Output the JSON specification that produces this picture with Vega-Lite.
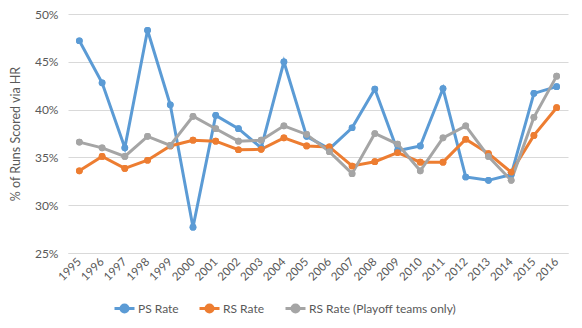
{
  "$schema": "https://vega.github.io/schema/vega-lite/v6.json",
  "autosize": {"type": "none"},
  "width": 500,
  "height": 239,
  "padding": {"left": 68, "top": 14, "right": 14, "bottom": 75},
  "background": "white",
  "config": {
    "font": "Lato",
    "view": {"stroke": null},
    "axis": {"labelColor": "#595959", "titleColor": "#595959", "labelFontSize": 12, "labelFont": "Lato", "titleFont": "Lato", "titleFontWeight": "normal"},
    "legend": {"labelColor": "#595959", "labelFontSize": 12, "labelFont": "Lato"}
  },
  "data": {
    "values": [
      {"year": "1995", "series": "PS Rate", "rate": 47.2},
      {"year": "1996", "series": "PS Rate", "rate": 42.8},
      {"year": "1997", "series": "PS Rate", "rate": 36.0},
      {"year": "1998", "series": "PS Rate", "rate": 48.3},
      {"year": "1999", "series": "PS Rate", "rate": 40.5},
      {"year": "2000", "series": "PS Rate", "rate": 27.7},
      {"year": "2001", "series": "PS Rate", "rate": 39.4},
      {"year": "2002", "series": "PS Rate", "rate": 38.0},
      {"year": "2003", "series": "PS Rate", "rate": 36.0},
      {"year": "2004", "series": "PS Rate", "rate": 45.0},
      {"year": "2005", "series": "PS Rate", "rate": 37.2},
      {"year": "2006", "series": "PS Rate", "rate": 35.9},
      {"year": "2007", "series": "PS Rate", "rate": 38.1},
      {"year": "2008", "series": "PS Rate", "rate": 42.15},
      {"year": "2009", "series": "PS Rate", "rate": 35.7},
      {"year": "2010", "series": "PS Rate", "rate": 36.2},
      {"year": "2011", "series": "PS Rate", "rate": 42.2},
      {"year": "2012", "series": "PS Rate", "rate": 32.95},
      {"year": "2013", "series": "PS Rate", "rate": 32.6},
      {"year": "2014", "series": "PS Rate", "rate": 33.2},
      {"year": "2015", "series": "PS Rate", "rate": 41.7},
      {"year": "2016", "series": "PS Rate", "rate": 42.4},
      {"year": "1995", "series": "RS Rate", "rate": 33.6},
      {"year": "1996", "series": "RS Rate", "rate": 35.1},
      {"year": "1997", "series": "RS Rate", "rate": 33.85},
      {"year": "1998", "series": "RS Rate", "rate": 34.7},
      {"year": "1999", "series": "RS Rate", "rate": 36.2},
      {"year": "2000", "series": "RS Rate", "rate": 36.8},
      {"year": "2001", "series": "RS Rate", "rate": 36.7},
      {"year": "2002", "series": "RS Rate", "rate": 35.8},
      {"year": "2003", "series": "RS Rate", "rate": 35.85},
      {"year": "2004", "series": "RS Rate", "rate": 37.05},
      {"year": "2005", "series": "RS Rate", "rate": 36.2},
      {"year": "2006", "series": "RS Rate", "rate": 36.1},
      {"year": "2007", "series": "RS Rate", "rate": 34.1},
      {"year": "2008", "series": "RS Rate", "rate": 34.55},
      {"year": "2009", "series": "RS Rate", "rate": 35.5},
      {"year": "2010", "series": "RS Rate", "rate": 34.5},
      {"year": "2011", "series": "RS Rate", "rate": 34.5},
      {"year": "2012", "series": "RS Rate", "rate": 36.9},
      {"year": "2013", "series": "RS Rate", "rate": 35.4},
      {"year": "2014", "series": "RS Rate", "rate": 33.45},
      {"year": "2015", "series": "RS Rate", "rate": 37.3},
      {"year": "2016", "series": "RS Rate", "rate": 40.2},
      {"year": "1995", "series": "RS Rate (Playoff teams only)", "rate": 36.6},
      {"year": "1996", "series": "RS Rate (Playoff teams only)", "rate": 36.0},
      {"year": "1997", "series": "RS Rate (Playoff teams only)", "rate": 35.1},
      {"year": "1998", "series": "RS Rate (Playoff teams only)", "rate": 37.2},
      {"year": "1999", "series": "RS Rate (Playoff teams only)", "rate": 36.25},
      {"year": "2000", "series": "RS Rate (Playoff teams only)", "rate": 39.3},
      {"year": "2001", "series": "RS Rate (Playoff teams only)", "rate": 38.0},
      {"year": "2002", "series": "RS Rate (Playoff teams only)", "rate": 36.7},
      {"year": "2003", "series": "RS Rate (Playoff teams only)", "rate": 36.8},
      {"year": "2004", "series": "RS Rate (Playoff teams only)", "rate": 38.3},
      {"year": "2005", "series": "RS Rate (Playoff teams only)", "rate": 37.4},
      {"year": "2006", "series": "RS Rate (Playoff teams only)", "rate": 35.6},
      {"year": "2007", "series": "RS Rate (Playoff teams only)", "rate": 33.3},
      {"year": "2008", "series": "RS Rate (Playoff teams only)", "rate": 37.5},
      {"year": "2009", "series": "RS Rate (Playoff teams only)", "rate": 36.4},
      {"year": "2010", "series": "RS Rate (Playoff teams only)", "rate": 33.6},
      {"year": "2011", "series": "RS Rate (Playoff teams only)", "rate": 37.05},
      {"year": "2012", "series": "RS Rate (Playoff teams only)", "rate": 38.3},
      {"year": "2013", "series": "RS Rate (Playoff teams only)", "rate": 35.1},
      {"year": "2014", "series": "RS Rate (Playoff teams only)", "rate": 32.6},
      {"year": "2015", "series": "RS Rate (Playoff teams only)", "rate": 39.2},
      {"year": "2016", "series": "RS Rate (Playoff teams only)", "rate": 43.5}
    ]
  },
  "encoding": {
    "x": {
      "field": "year", "type": "ordinal",
      "scale": {"type": "point", "padding": 0.5},
      "axis": {"title": null, "labelAngle": -45, "labelAlign": "right", "labelBaseline": "middle", "labelPadding": 7, "labelFontSize": 11.5, "ticks": false, "grid": false, "domainColor": "#D9D9D9", "domainWidth": 1}
    },
    "y": {
      "field": "rate", "type": "quantitative",
      "scale": {"domain": [25, 50], "nice": false, "zero": false},
      "axis": {"title": "% of Runs Scored via HR", "titleFontSize": 12.5, "titlePadding": 12, "values": [25, 30, 35, 40, 45, 50], "labelExpr": "datum.value + '%'", "labelPadding": 10, "ticks": false, "domain": false, "gridColor": "#D9D9D9", "gridWidth": 1}
    },
    "color": {
      "field": "series", "type": "nominal",
      "scale": {"domain": ["PS Rate", "RS Rate", "RS Rate (Playoff teams only)"], "range": ["#5B9BD5", "#ED7D31", "#A5A5A5"]},
      "legend": {
        "title": null, "orient": "none", "direction": "horizontal", "legendX": 45, "legendY": 283,
        "symbolType": "M-1,0H1M-0.35,0A0.35,0.35 0 1,0 0.35,0A0.35,0.35 0 1,0 -0.35,0Z",
        "symbolSize": 400, "symbolStrokeWidth": 3, "labelOffset": 2, "columnPadding": 14
      }
    }
  },
  "layer": [
    {"mark": {"type": "point", "filled": true, "opacity": 1, "size": 45}},
    {"mark": {"type": "line", "strokeWidth": 3}, "encoding": {"detail": {"field": "series"}}},
    {"mark": {"type": "point", "filled": true, "opacity": 1, "size": 45}}
  ]
}
